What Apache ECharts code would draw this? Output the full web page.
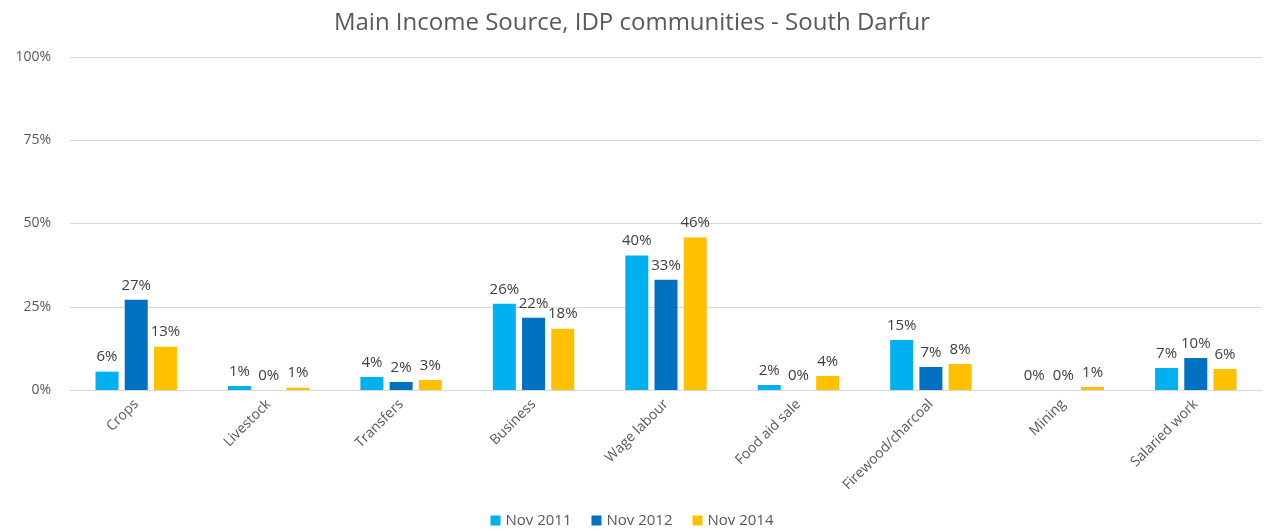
<!DOCTYPE html>
<html>
<head>
<meta charset="utf-8">
<script src="https://cdn.jsdelivr.net/npm/echarts@6/dist/echarts.min.js"></script>
<style>
  html, body { margin: 0; padding: 0; background: #fff; }
  #chart { width: 1264px; height: 530px; }
</style>
</head>
<body>
<div id="chart"></div>
<script>
  const categories = ['Crops', 'Livestock', 'Transfers', 'Business', 'Wage labour', 'Food aid sale', 'Firewood/charcoal', 'Mining', 'Salaried work'];
  const nov2011 = [5.5, 1.2, 3.9, 25.9, 40.4, 1.5, 15.0, 0, 6.6];
  const nov2012 = [27.1, 0, 2.4, 21.7, 33.1, 0, 6.9, 0, 9.6];
  const nov2014 = [13.0, 0.7, 3.0, 18.4, 45.8, 4.2, 7.8, 0.9, 6.3];
  const yTicks = [0, 25, 50, 75, 100];

  const font = '"Open Sans", "Noto Sans", sans-serif';
  const chart = echarts.init(document.getElementById('chart'));

  const mkSeries = (name, data, color) => ({
    name,
    type: 'bar',
    data,
    barWidth: 23,
    barGap: '27%',
    itemStyle: { color },
    label: {
      show: true,
      position: 'top',
      distance: 7,
      formatter: p => Math.round(p.value) + '%',
      color: '#404040',
      fontSize: 15,
      fontFamily: font
    }
  });

  const option = {
    animation: false,
    title: {
      text: 'Main Income Source, IDP communities - South Darfur',
      left: 'center',
      top: 6,
      textStyle: { fontFamily: font, fontWeight: 'normal', fontSize: 24, color: '#595959' }
    },
    legend: {
      bottom: -3,
      left: 'center',
      itemWidth: 10,
      itemHeight: 10,
      itemGap: 20,
      icon: 'rect',
      textStyle: { fontFamily: font, fontSize: 15, color: '#595959' }
    },
    grid: { left: 70, right: 2, top: 57, bottom: 140 },
    xAxis: {
      type: 'category',
      data: categories,
      axisTick: { show: false },
      axisLine: { lineStyle: { color: '#d9d9d9' } },
      axisLabel: {
        rotate: 45,
        interval: 0,
        margin: 12,
        color: '#595959',
        fontFamily: font,
        fontSize: 14
      }
    },
    yAxis: {
      type: 'value',
      min: yTicks[0],
      max: yTicks[yTicks.length - 1],
      interval: 25,
      axisLine: { show: false },
      axisTick: { show: false },
      splitLine: { lineStyle: { color: '#d9d9d9' } },
      axisLabel: {
        formatter: '{value}%',
        color: '#595959',
        fontFamily: font,
        fontSize: 14,
        margin: 19,
        align: 'right'
      }
    },
    series: [
      mkSeries('Nov 2011', nov2011, '#00B0F0'),
      mkSeries('Nov 2012', nov2012, '#0070C0'),
      mkSeries('Nov 2014', nov2014, '#FFC000')
    ]
  };

  chart.setOption(option);
  window.addEventListener('resize', () => chart.resize());
</script>
</body>
</html>
